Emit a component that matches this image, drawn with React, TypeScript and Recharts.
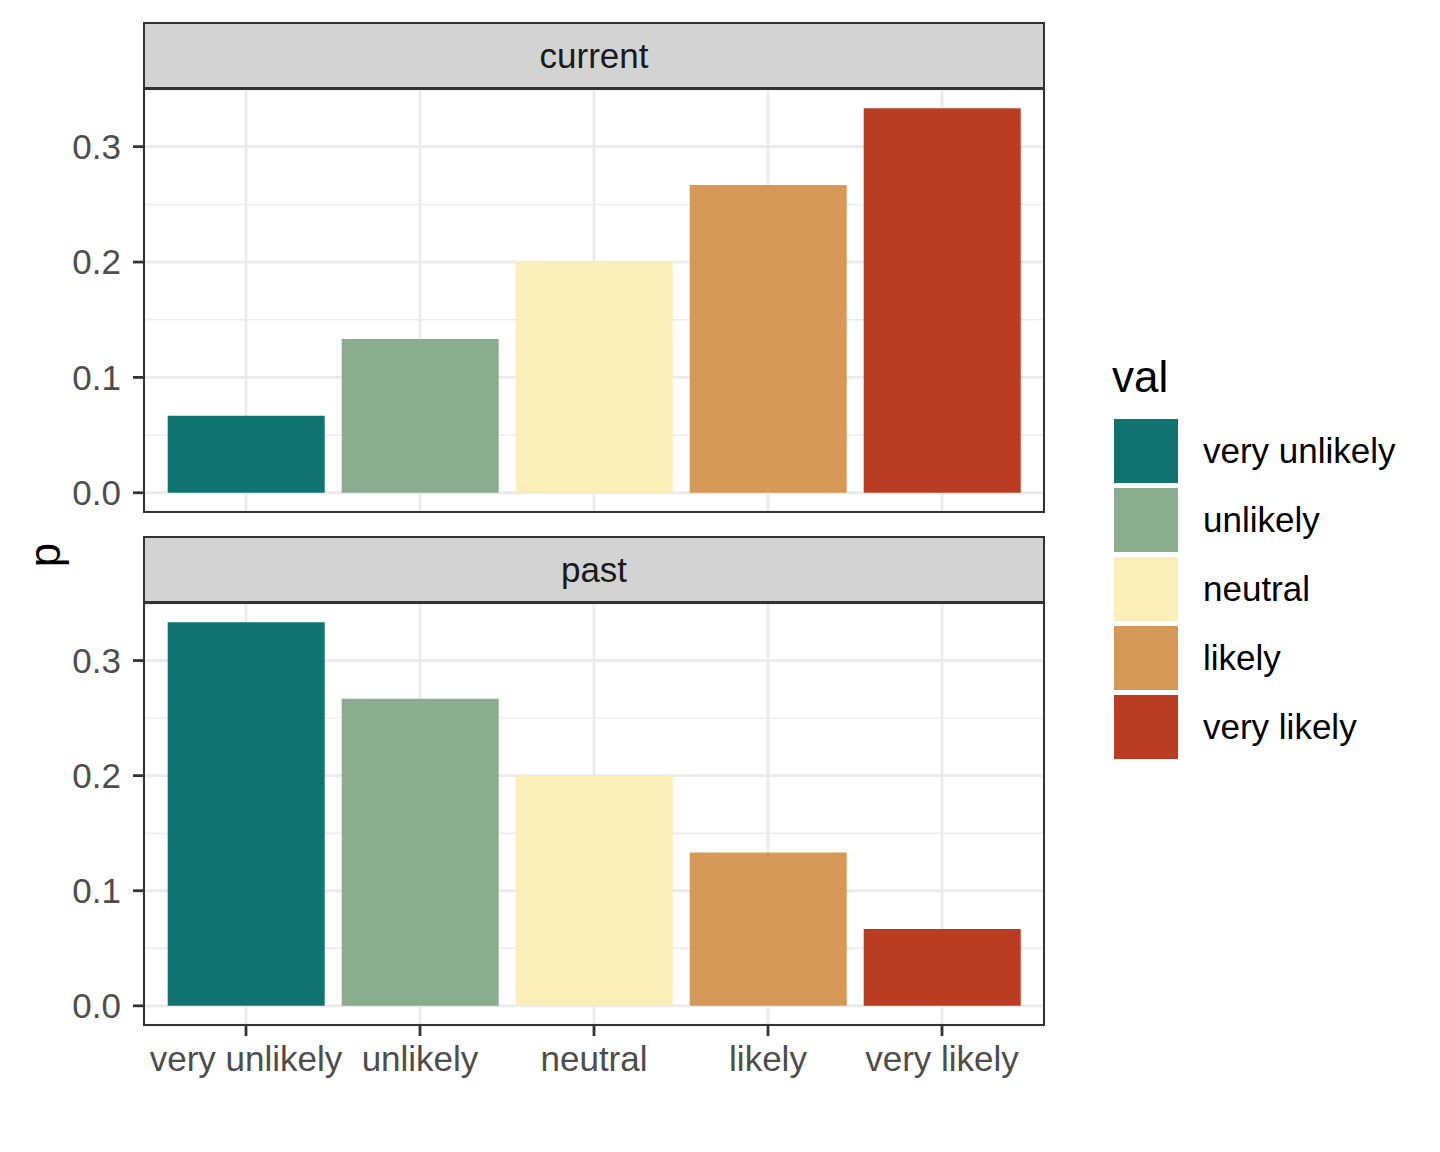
import React from "react";
import { BarChart, Bar, XAxis, YAxis, CartesianGrid, Cell } from "recharts";

const categories = ["very unlikely", "unlikely", "neutral", "likely", "very likely"];
const currentP = [0.0667, 0.1333, 0.2, 0.2667, 0.3333];
const pastP = [0.3333, 0.2667, 0.2, 0.1333, 0.0667];
const yTicks = [0, 0.1, 0.2, 0.3];
const yMinor = [0.05, 0.15, 0.25];
const palette = ["#117370", "#8BAD8F", "#FBEFB9", "#D59856", "#B83D22"];

const FONT = "'Liberation Sans', Arial, sans-serif";
const GRID = "#EBEBEB";
const DARK = "#333333";

const PANEL_LEFT = 144;
const PANEL_RIGHT = 1044;

interface PanelProps {
  values: number[];
  plotTop: number;
  plotBottom: number;
  showX: boolean;
}

function Panel({ values, plotTop, plotBottom, showX }: PanelProps) {
  const rows = categories.map((c, i) => ({ cat: c, p: values[i] }));
  const xHeight = showX ? 76 : 0;
  const height = plotBottom + xHeight;
  return (
    <div style={{ position: "absolute", left: 0, top: 0 }}>
      <BarChart
        width={PANEL_RIGHT + 6}
        height={height}
        data={rows}
        margin={{ top: plotTop, right: 6, bottom: 0, left: 0 }}
        barCategoryGap="5%"
      >
        <CartesianGrid
          stroke={GRID}
          strokeWidth={1.4}
          vertical={false}
          horizontalValues={yMinor}
        />
        <CartesianGrid stroke={GRID} strokeWidth={2.8} />
        <XAxis
          dataKey="cat"
          type="category"
          padding={{ left: 15, right: 15 }}
          hide={!showX}
          height={xHeight}
          axisLine={false}
          tickLine={{ stroke: DARK, strokeWidth: 2.8 }}
          tickSize={11}
          tickMargin={10}
          interval={0}
          tick={{ fill: "#4D4D4D", fontSize: 35, fontFamily: FONT }}
        />
        <YAxis
          type="number"
          domain={[-1 / 60, 0.35]}
          allowDataOverflow
          ticks={yTicks}
          interval={0}
          width={PANEL_LEFT}
          axisLine={false}
          tickLine={{ stroke: DARK, strokeWidth: 2.8 }}
          tickSize={11}
          tickMargin={12}
          tickFormatter={(v: number) => v.toFixed(1)}
          tick={{ fill: "#4D4D4D", fontSize: 35, fontFamily: FONT }}
        />
        <Bar dataKey="p" isAnimationActive={false}>
          {rows.map((r, i) => (
            <Cell key={r.cat} fill={palette[i]} />
          ))}
        </Bar>
      </BarChart>
    </div>
  );
}

function Strip({ label, top, bottom }: { label: string; top: number; bottom: number }) {
  return (
    <div
      style={{
        position: "absolute",
        left: PANEL_LEFT - 1,
        top,
        width: PANEL_RIGHT - PANEL_LEFT + 2,
        height: bottom - top + 1,
        boxSizing: "border-box",
        border: `2px solid ${DARK}`,
        background: "#D3D3D3",
        display: "flex",
        alignItems: "center",
        justifyContent: "center",
        fontFamily: FONT,
        fontSize: 35,
        color: "#1A1A1A",
      }}
    >
      {label}
    </div>
  );
}

function Border({ top, bottom }: { top: number; bottom: number }) {
  return (
    <div
      style={{
        position: "absolute",
        left: PANEL_LEFT - 1,
        top: top - 1,
        width: PANEL_RIGHT - PANEL_LEFT + 2,
        height: bottom - top + 2,
        boxSizing: "border-box",
        border: `2px solid ${DARK}`,
        pointerEvents: "none",
      }}
    />
  );
}

export default function App() {
  return (
    <div
      style={{
        position: "relative",
        width: 1440,
        height: 1152,
        background: "#fff",
        fontFamily: FONT,
      }}
    >
      <style>{`body{margin:0}`}</style>
      <Panel values={currentP} plotTop={89} plotBottom={512} showX={false} />
      <Panel values={pastP} plotTop={603} plotBottom={1025} showX />
      <Strip label="current" top={22} bottom={88} />
      <Strip label="past" top={536} bottom={602} />
      <Border top={89} bottom={512} />
      <Border top={603} bottom={1025} />

      <div
        style={{
          position: "absolute",
          left: 45,
          top: 555,
          transform: "translate(-50%, -50%) rotate(-90deg)",
          fontSize: 44,
          color: "#000",
        }}
      >
        p
      </div>

      <div style={{ position: "absolute", left: 1112, top: 352, fontSize: 44, color: "#000" }}>val</div>
      {categories.map((c, i) => (
        <div
          key={c}
          style={{
            position: "absolute",
            left: 1114,
            top: 419 + i * 69,
            height: 64,
            display: "flex",
            alignItems: "center",
          }}
        >
          <div style={{ width: 64, height: 64, background: palette[i] }} />
          <div style={{ marginLeft: 25, fontSize: 35, color: "#000" }}>{c}</div>
        </div>
      ))}
    </div>
  );
}
